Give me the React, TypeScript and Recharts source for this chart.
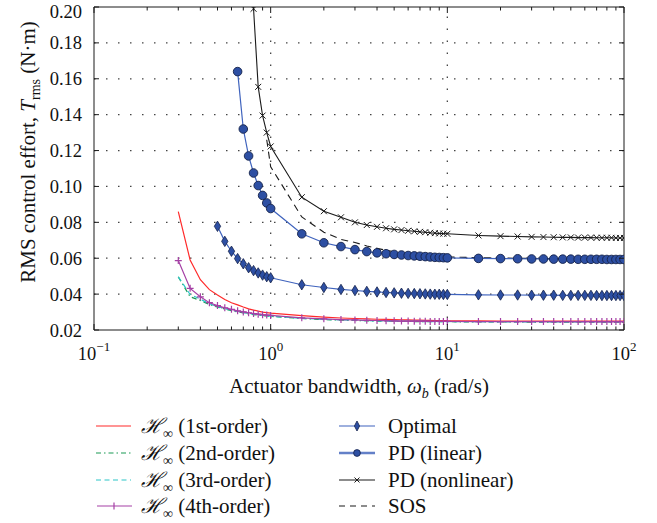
import { LineChart, Line, XAxis, YAxis, ReferenceLine, Label, Legend } from "recharts";

const FONT = "Liberation Serif, Times New Roman, Times, DejaVu Serif, serif";

// actuator bandwidth samples (rad/s)
const omega = [
  0.3, 0.35, 0.4, 0.45, 0.5, 0.55, 0.6, 0.65, 0.7, 0.75, 0.8, 0.85, 0.9, 0.95, 1,
  1.5, 2, 2.5, 3, 3.5, 4, 4.5, 5, 5.5, 6, 6.5, 7, 7.5, 8, 8.5, 9, 9.5, 10,
  15, 20, 25, 30, 35, 40, 45, 50, 55, 60, 65, 70, 75, 80, 85, 90, 95, 100,
];

const hinf1 = [
  0.086, 0.059, 0.048, 0.0425, 0.0395, 0.037, 0.0352, 0.034, 0.0328, 0.0318, 0.0311, 0.0305, 0.03, 0.0297, 0.0294,
  0.028, 0.0272, 0.0267, 0.0264, 0.0262, 0.026, 0.0259, 0.0258, 0.0257, 0.0256, 0.0255, 0.0255, 0.0254, 0.0254, 0.0253, 0.0253, 0.0253, 0.0252,
  0.0251, 0.025, 0.025, 0.025, 0.0249, 0.0249, 0.0249, 0.0249, 0.0249, 0.0249, 0.0249, 0.0249, 0.0249, 0.0249, 0.0249, 0.0249, 0.0249, 0.0249,
];
const hinf2 = [
  0.0496, 0.0385, 0.0365, 0.0342, 0.0328, 0.0317, 0.0308, 0.0301, 0.0295, 0.029, 0.0286, 0.0283, 0.028, 0.0278, 0.0276,
  0.0264, 0.0258, 0.0255, 0.0253, 0.0251, 0.025, 0.0249, 0.0249, 0.0248, 0.0248, 0.0247, 0.0247, 0.0247, 0.0246, 0.0246, 0.0246, 0.0246, 0.0246,
  0.0245, 0.0245, 0.0245, 0.0244, 0.0244, 0.0244, 0.0244, 0.0244, 0.0244, 0.0244, 0.0244, 0.0244, 0.0244, 0.0244, 0.0244, 0.0244, 0.0244, 0.0244,
];
const hinf3 = [
  0.0496, 0.0398, 0.0372, 0.0346, 0.0331, 0.0319, 0.031, 0.0303, 0.0297, 0.0292, 0.0288, 0.0284, 0.0281, 0.0279, 0.0277,
  0.0265, 0.0259, 0.0256, 0.0254, 0.0252, 0.0251, 0.025, 0.0249, 0.0249, 0.0248, 0.0248, 0.0248, 0.0247, 0.0247, 0.0247, 0.0247, 0.0246, 0.0246,
  0.0246, 0.0245, 0.0245, 0.0245, 0.0245, 0.0245, 0.0245, 0.0245, 0.0245, 0.0245, 0.0245, 0.0245, 0.0245, 0.0245, 0.0245, 0.0245, 0.0245, 0.0245,
];
const hinf4 = [
  0.0587, 0.0432, 0.0385, 0.0352, 0.0336, 0.0324, 0.0315, 0.0307, 0.0301, 0.0296, 0.0292, 0.0288, 0.0285, 0.0283, 0.0281,
  0.0268, 0.0262, 0.0258, 0.0256, 0.0254, 0.0253, 0.0252, 0.0251, 0.025, 0.025, 0.0249, 0.0249, 0.0249, 0.0248, 0.0248, 0.0248, 0.0248, 0.0248,
  0.0247, 0.0247, 0.0247, 0.0247, 0.0247, 0.0247, 0.0247, 0.0247, 0.0247, 0.0247, 0.0247, 0.0247, 0.0247, 0.0247, 0.0247, 0.0247, 0.0247, 0.0247,
];
const optimal = [
  null, null, null, null, 0.0778, 0.0694, 0.0639, 0.0598, 0.0569, 0.0547, 0.0531, 0.0518, 0.0506, 0.0497, 0.0491,
  0.0452, 0.0437, 0.0426, 0.042, 0.0415, 0.0412, 0.0409, 0.0407, 0.0405, 0.0404, 0.0403, 0.0402, 0.0401, 0.04, 0.0399, 0.0399, 0.0398, 0.0398,
  0.0396, 0.0395, 0.0395, 0.0394, 0.0394, 0.0394, 0.0393, 0.0393, 0.0393, 0.0393, 0.0393, 0.0392, 0.0392, 0.0392, 0.0392, 0.0392, 0.0392, 0.0392,
];
const pdLinear = [
  null, null, null, null, null, null, null, 0.164, 0.132, 0.117, 0.1075, 0.1005, 0.095, 0.0908, 0.0877,
  0.0736, 0.0686, 0.0665, 0.0648, 0.0637, 0.063, 0.0625, 0.0621, 0.0618, 0.0615, 0.0613, 0.0611, 0.0609, 0.0607, 0.0605, 0.0604, 0.0603, 0.0602,
  0.0599, 0.0598, 0.0597, 0.0596, 0.0596, 0.0595, 0.0595, 0.0595, 0.0594, 0.0594, 0.0594, 0.0594, 0.0594, 0.0593, 0.0593, 0.0593, 0.0593, 0.0593,
];
const pdNonlinear = [
  null, null, null, null, null, null, null, null, null, 0.23, 0.199, 0.1555, 0.1395, 0.13, 0.1223,
  0.094, 0.0862, 0.0828, 0.08, 0.0785, 0.0775, 0.0767, 0.0761, 0.0757, 0.0753, 0.075, 0.0747, 0.0745, 0.0742, 0.074, 0.0738, 0.0737, 0.0736,
  0.0727, 0.0723, 0.0721, 0.0719, 0.0718, 0.0717, 0.0716, 0.0716, 0.0715, 0.0715, 0.0715, 0.0714, 0.0714, 0.0714, 0.0714, 0.0713, 0.0713, 0.0713,
];
const sos = [
  null, null, null, null, null, null, null, null, null, null, null, null, null, 0.126, 0.111,
  0.083, 0.0745, 0.0705, 0.0688, 0.0668, 0.0655, 0.0644, 0.0636, 0.063, 0.0625, 0.0621, 0.0618, 0.0615, 0.0613, 0.0611, 0.0609, 0.0608, 0.0607,
  0.0603, 0.0601, 0.06, 0.0599, 0.0598, 0.0598, 0.0597, 0.0597, 0.0597, 0.0596, 0.0596, 0.0596, 0.0596, 0.0596, 0.0595, 0.0595, 0.0595, 0.0595,
];

const xTicks = [
  0.1, 0.2, 0.3, 0.4, 0.5, 0.6, 0.7, 0.8, 0.9, 1, 2, 3, 4, 5, 6, 7, 8, 9, 10,
  20, 30, 40, 50, 60, 70, 80, 90, 100,
];
const xDecades = [0.1, 1, 10, 100];
const xDecadeExp = ["\u22121", "0", "1", "2"];
const yTicks = [0.02, 0.04, 0.06, 0.08, 0.1, 0.12, 0.14, 0.16, 0.18, 0.2];

const legendLeft = ["(1st-order)", "(2nd-order)", "(3rd-order)", "(4th-order)"];
const legendRight = ["Optimal", "PD (linear)", "PD (nonlinear)", "SOS"];

const data = omega.map((w, i) => ({
  w,
  h1: hinf1[i],
  h2: hinf2[i],
  h3: hinf3[i],
  h4: hinf4[i],
  opt: optimal[i],
  pdl: pdLinear[i],
  pdn: pdNonlinear[i],
  sos: sos[i],
}));

const RED = "#ff2a2a";
const GREEN = "#1a9a55";
const CYAN = "#2cc6c8";
const MAGENTA = "#a540a5";
const BLUE = "#3f63bd";
const MARK_FILL = "#2d4fa3";
const MARK_EDGE = "#15224a";
const BLACK = "#1a1a1a";
const tickTxt = { fontFamily: FONT, fontSize: 18.5, fill: "#111" };
const bigTxt = { fontFamily: FONT, fontSize: 21, fill: "#111" };

const bad = (p: any) => p.cx == null || p.cy == null || isNaN(p.cy) || p.value == null;

const diamond = (cx: number, cy: number, w: number, h: number) =>
  `M${cx},${cy - h} L${cx + w},${cy} L${cx},${cy + h} L${cx - w},${cy} Z`;

const DiamondDot = (p: any) =>
  bad(p) ? <g key={`d${p.index}`} /> : (
    <path key={`d${p.index}`} d={diamond(p.cx, p.cy, 3.2, 5.2)} fill={MARK_FILL} stroke={MARK_EDGE} strokeWidth={0.8} />
  );
const CircleDot = (p: any) =>
  bad(p) ? <g key={`c${p.index}`} /> : (
    <circle key={`c${p.index}`} cx={p.cx} cy={p.cy} r={4.3} fill={MARK_FILL} stroke={MARK_EDGE} strokeWidth={0.9} />
  );
const CrossDot = (p: any) =>
  bad(p) ? <g key={`x${p.index}`} /> : (
    <path key={`x${p.index}`} d={`M${p.cx - 3},${p.cy - 3} L${p.cx + 3},${p.cy + 3} M${p.cx - 3},${p.cy + 3} L${p.cx + 3},${p.cy - 3}`} stroke={BLACK} strokeWidth={1} />
  );
const PlusDot = (p: any) =>
  bad(p) ? <g key={`p${p.index}`} /> : (
    <path key={`p${p.index}`} d={`M${p.cx - 3.5},${p.cy} L${p.cx + 3.5},${p.cy} M${p.cx},${p.cy - 3.5} L${p.cx},${p.cy + 3.5}`} stroke={MAGENTA} strokeWidth={1.2} />
  );

const BottomTick = ({ x, y, payload }: any) => {
  const k = xDecades.indexOf(payload.value);
  return (
    <g>
      <line x1={x} x2={x} y1={y} y2={y - (k >= 0 ? 6 : 3.5)} stroke={BLACK} />
      {k >= 0 && (
        <text x={x} y={y + 30} textAnchor="middle" style={tickTxt}>
          10<tspan dy={-9} style={{ fontSize: 13 }}>{xDecadeExp[k]}</tspan>
        </text>
      )}
    </g>
  );
};
const TopTick = ({ x, y, payload }: any) => {
  const major = xDecades.includes(payload.value);
  return <line x1={x} x2={x} y1={y} y2={y + (major ? 6 : 3.5)} stroke={BLACK} />;
};
const LeftTick = ({ x, y, payload }: any) => (
  <g>
    <line x1={x} x2={x + 5} y1={y} y2={y} stroke={BLACK} />
    {/* top label sits a little lower so it stays inside the figure */}
    <text x={x - 12} y={y + (payload.value >= 0.2 ? 11 : 6.5)} textAnchor="end" style={tickTxt}>
      {payload.value.toFixed(2)}
    </text>
  </g>
);
const RightTick = ({ x, y }: any) => <line x1={x} x2={x - 5} y1={y} y2={y} stroke={BLACK} />;

const HInf = ({ x, y, text }: { x: number; y: number; text: string }) => (
  <text x={x} y={y} style={bigTxt}>
    <tspan style={{ fontStyle: "italic" }}>ℋ</tspan>
    <tspan style={{ fontSize: 14 }} dy={5}>∞</tspan>
    <tspan dy={-5}> {text}</tspan>
  </text>
);

const LegendBox = () => {
  const rows = [26, 53, 80, 106];
  return (
    <svg width={657} height={123} style={{ display: "block" }}>
      {/* left column */}
      <line x1={96} x2={131} y1={rows[0]} y2={rows[0]} stroke={RED} strokeWidth={1.2} />
      <line x1={96} x2={131} y1={rows[1]} y2={rows[1]} stroke={GREEN} strokeWidth={1.2} strokeDasharray="5 3 1.5 3" />
      <line x1={96} x2={131} y1={rows[2]} y2={rows[2]} stroke={CYAN} strokeWidth={1.2} strokeDasharray="5 3.5" />
      <line x1={97} x2={132} y1={rows[3]} y2={rows[3]} stroke={MAGENTA} strokeWidth={1.2} />
      <path d={`M114,${rows[3] - 3.5} L114,${rows[3] + 3.5}`} stroke={MAGENTA} strokeWidth={1.2} />
      {legendLeft.map((t, i) => (
        <HInf key={t} x={141} y={rows[i] + 7} text={t} />
      ))}
      {/* right column */}
      <line x1={339} x2={375} y1={rows[0]} y2={rows[0]} stroke={BLUE} strokeWidth={1.2} />
      <path d={diamond(357, rows[0], 2.6, 5)} fill={MARK_FILL} stroke={MARK_EDGE} strokeWidth={0.8} />
      <line x1={339} x2={375} y1={rows[1]} y2={rows[1]} stroke="#6380c8" strokeWidth={2.6} />
      <circle cx={357} cy={rows[1]} r={3.4} fill={MARK_FILL} stroke={MARK_EDGE} strokeWidth={0.8} />
      <line x1={339} x2={375} y1={rows[2]} y2={rows[2]} stroke={BLACK} strokeWidth={1.1} />
      <path d={`M354.5,${rows[2] - 2.5} L359.5,${rows[2] + 2.5} M354.5,${rows[2] + 2.5} L359.5,${rows[2] - 2.5}`} stroke={BLACK} />
      <line x1={339} x2={375} y1={rows[3]} y2={rows[3]} stroke={BLACK} strokeWidth={1.1} strokeDasharray="6 5" />
      {legendRight.map((t, i) => (
        <text key={t} x={388} y={rows[i] + 7} style={bigTxt}>
          {t}
        </text>
      ))}
    </svg>
  );
};

export default function App() {
  return (
    <div style={{ position: "absolute", left: 0, top: 0, width: 657, height: 523, background: "#fff" }}>
      <LineChart width={657} height={523} data={data} margin={{ top: 6, right: 32, bottom: 192, left: 93 }}>
        <XAxis
          dataKey="w"
          type="number"
          scale="log"
          domain={[0.1, 100]}
          allowDataOverflow
          ticks={xTicks}
          interval={0}
          height={1}
          tickSize={0}
          tickMargin={0}
          tickLine={false}
          tick={<BottomTick />}
          axisLine={{ stroke: BLACK, strokeWidth: 1.2 }}
        >
          <Label
            content={() => (
              <text x={359} y={393} textAnchor="middle" style={bigTxt}>
                Actuator bandwidth, <tspan style={{ fontStyle: "italic" }}>ω</tspan>
                <tspan style={{ fontStyle: "italic", fontSize: 14 }} dy={5}>b</tspan>
                <tspan dy={-5}> (rad/s)</tspan>
              </text>
            )}
          />
        </XAxis>
        <XAxis
          xAxisId="top"
          orientation="top"
          dataKey="w"
          type="number"
          scale="log"
          domain={[0.1, 100]}
          allowDataOverflow
          ticks={xTicks}
          interval={0}
          height={1}
          tickSize={0}
          tickMargin={0}
          tickLine={false}
          tick={<TopTick />}
          axisLine={{ stroke: BLACK }}
        />
        <YAxis
          type="number"
          domain={[0.02, 0.2]}
          allowDataOverflow
          ticks={yTicks}
          interval={0}
          width={1}
          tickSize={0}
          tickMargin={0}
          tickLine={false}
          tick={<LeftTick />}
          axisLine={{ stroke: BLACK }}
        >
          <Label
            content={() => (
              <text x={0} y={0} transform="translate(35,152) rotate(-90)" textAnchor="middle" style={bigTxt}>
                RMS control effort, <tspan style={{ fontStyle: "italic" }}>T</tspan>
                <tspan style={{ fontSize: 14 }} dy={5}>rms</tspan>
                <tspan dy={-5}> (N·m)</tspan>
              </text>
            )}
          />
        </YAxis>
        <YAxis
          yAxisId="right"
          orientation="right"
          type="number"
          domain={[0.02, 0.2]}
          allowDataOverflow
          ticks={yTicks}
          interval={0}
          width={1}
          tickSize={0}
          tickMargin={0}
          tickLine={false}
          tick={<RightTick />}
          axisLine={{ stroke: BLACK }}
        />

        {/* dotted grid */}
        {yTicks.slice(1, -1).map((v) => (
          <ReferenceLine key={`gy${v}`} y={v} stroke="#444" strokeWidth={1.3} strokeDasharray="1.5 10.5" />
        ))}
        {xDecades.slice(1, -1).map((v) => (
          <ReferenceLine key={`gx${v}`} x={v} stroke="#444" strokeWidth={1.3} strokeDasharray="1.5 10.5" />
        ))}

        <Line dataKey="h1" stroke={RED} strokeWidth={1.2} dot={false} isAnimationActive={false} type="linear" />
        <Line dataKey="h2" stroke={GREEN} strokeWidth={1.2} strokeDasharray="5 3 1.5 3" dot={false} isAnimationActive={false} type="linear" />
        <Line dataKey="h3" stroke={CYAN} strokeWidth={1.2} strokeDasharray="5 3.5" dot={false} isAnimationActive={false} type="linear" />
        <Line dataKey="h4" stroke={MAGENTA} strokeWidth={1.2} dot={PlusDot} isAnimationActive={false} type="linear" />
        <Line dataKey="sos" stroke={BLACK} strokeWidth={1.1} strokeDasharray="7 5" dot={false} isAnimationActive={false} type="linear" />
        <Line dataKey="pdn" stroke={BLACK} strokeWidth={1.1} dot={CrossDot} isAnimationActive={false} type="linear" />
        <Line dataKey="opt" stroke={BLUE} strokeWidth={1.2} dot={DiamondDot} isAnimationActive={false} type="linear" />
        <Line dataKey="pdl" stroke={BLUE} strokeWidth={1.2} dot={CircleDot} isAnimationActive={false} type="linear" />

        <Legend
          layout="horizontal"
          verticalAlign="middle"
          align="center"
          content={() => <LegendBox />}
          wrapperStyle={{ position: "absolute", left: 0, top: 400, width: 657, height: 123 }}
        />
      </LineChart>
    </div>
  );
}
